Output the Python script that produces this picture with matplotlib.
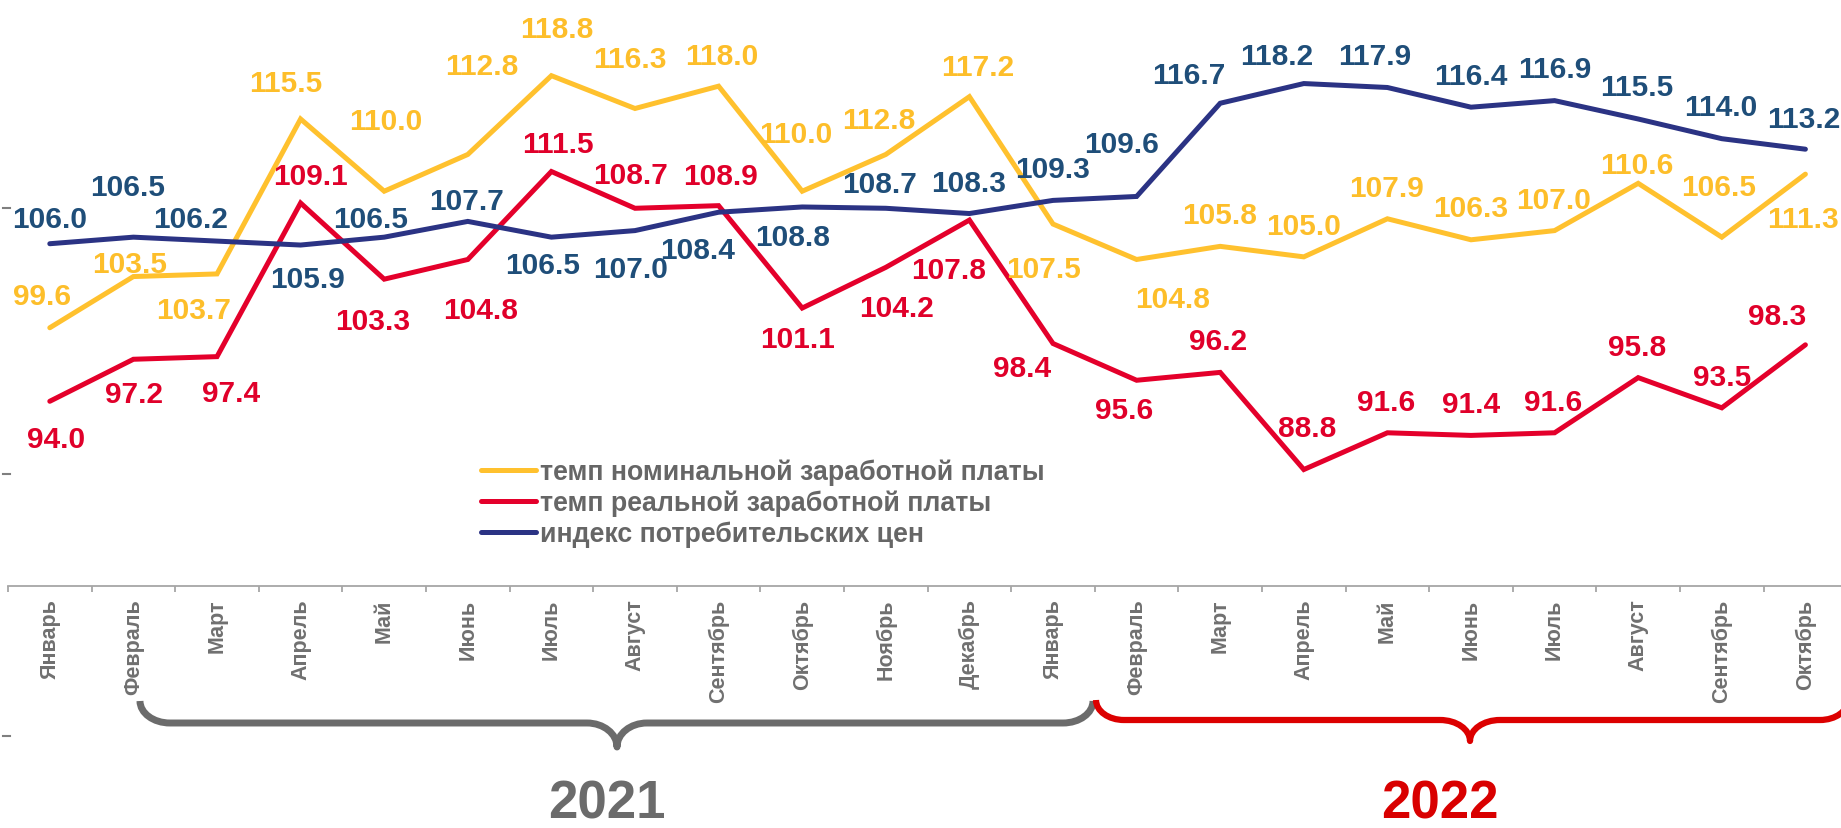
import matplotlib
matplotlib.use('Agg')
import matplotlib.pyplot as plt
from matplotlib.path import Path
from matplotlib.patches import PathPatch
from matplotlib.lines import Line2D

plt.rcParams['font.family'] = ['Liberation Sans', 'DejaVu Sans']

# data
months = ['Январь', 'Февраль', 'Март', 'Апрель', 'Май', 'Июнь', 'Июль', 'Август',
          'Сентябрь', 'Октябрь', 'Ноябрь', 'Декабрь',
          'Январь', 'Февраль', 'Март', 'Апрель', 'Май', 'Июнь', 'Июль', 'Август',
          'Сентябрь', 'Октябрь']
nominal = [99.6, 103.5, 103.7, 115.5, 110.0, 112.8, 118.8, 116.3, 118.0, 110.0, 112.8,
           117.2, 107.5, 104.8, 105.8, 105.0, 107.9, 106.3, 107.0, 110.6, 106.5, 111.3]
real = [94.0, 97.2, 97.4, 109.1, 103.3, 104.8, 111.5, 108.7, 108.9, 101.1, 104.2,
        107.8, 98.4, 95.6, 96.2, 88.8, 91.6, 91.4, 91.6, 95.8, 93.5, 98.3]
cpi = [106.0, 106.5, 106.2, 105.9, 106.5, 107.7, 106.5, 107.0, 108.4, 108.8, 108.7,
       108.3, 109.3, 109.6, 116.7, 118.2, 117.9, 116.4, 116.9, 115.5, 114.0, 113.2]
legend_labels = ['темп номинальной заработной платы',
                 'темп реальной заработной платы',
                 'индекс потребительских цен']
years = ['2021', '2022']

# label offsets in pixels (dx right, dy down)
off_nom = [(-8, -35), (-4, -16), (-23, 33), (-15, -39), (2, -73), (14, -91), (5, -50),
           (-5, -52), (3, -33), (-6, -60), (-7, -37), (8, -33), (-9, 42), (36, 37),
           (-1, -34), (0, -34), (-1, -34), (0, -35), (-1, -34), (-1, -21), (-3, -53), (-2, 42)]
off_real = [(6, 35), (1, 32), (14, 33), (10, -30), (-12, 39), (13, 48), (7, -31),
            (-4, -36), (2, -33), (-5, 28), (11, 38), (-21, 47), (-31, 21), (-12, 27),
            (-2, -34), (3, -45), (-1, -34), (0, -34), (-1, -34), (-1, -34), (0, -34), (-28, -32)]
off_cpi = [(0, -28), (-6, -53), (-26, -25), (7, 31), (-14, -21), (-1, -23), (-9, 25),
           (-4, 35), (-21, 35), (-10, 27), (-6, -27), (-1, -34), (0, -34), (-15, -55),
           (-31, -31), (-27, -31), (-13, -34), (0, -34), (0, -35), (-1, -35), (-1, -35), (-2, -33)]

c_nom, c_real, c_cpi = '#FFC12E', '#E4002B', '#2B3384'
t_nom, t_real, t_cpi = '#FDBE2A', '#E0002A', '#1F4E79'

W, H = 1841, 829
fig = plt.figure(figsize=(W / 100, H / 100), dpi=100)
ax = fig.add_axes([8 / W, (H - 587) / H, 22 * 83.6 / W, 587 / H])
ax.set_facecolor('none')

x = list(range(len(months)))
series = [(nominal, c_nom, t_nom, off_nom), (real, c_real, t_real, off_real),
          (cpi, c_cpi, t_cpi, off_cpi)]
handles = []
for vals, lc, tc, offs in series:
    ln, = ax.plot(x, vals, color=lc, lw=3.6, solid_joinstyle='miter', solid_capstyle='round')
    handles.append(ln)
    for i, v in enumerate(vals):
        dx, dy = offs[i]
        ax.annotate(f'{v:.1f}', (i, v), xytext=(dx, -dy - 3), textcoords='offset pixels',
                    ha='center', va='center', fontsize=21.5, fontweight='bold', color=tc)

ax.set_xlim(-0.5, 21.5)
ax.set_ylim(79.93, 124.64)
ax.set_yticks([])
for s in ['left', 'right', 'top']:
    ax.spines[s].set_visible(False)
ax.spines['bottom'].set_color('#a6a6a6')
ax.spines['bottom'].set_linewidth(1.3)
ax.set_xticks(x)
ax.set_xticklabels(months, rotation=90)
ax.set_xticks([i - 0.5 for i in range(len(months) + 1)], minor=True)
ax.tick_params(axis='x', which='major', length=0, pad=9, labelsize=15.5, labelcolor='#707070')
ax.tick_params(axis='x', which='minor', length=4.5, width=1.3, color='#a6a6a6')
for lab in ax.get_xticklabels():
    lab.set_fontweight('bold')

fig.legend(handles, legend_labels, loc='center left',
           bbox_to_anchor=(481 / W, 1 - 504 / H), bbox_transform=fig.transFigure,
           frameon=False, borderpad=0, borderaxespad=0, handlelength=2.05,
           handletextpad=0.15, labelspacing=0.17, labelcolor='#666666',
           prop={'size': 19.3, 'weight': 'bold'})

# overlay in pixel coordinates for braces and year captions
ov = fig.add_axes([0, 0, 1, 1])
ov.set_xlim(0, W)
ov.set_ylim(H, 0)
ov.axis('off')
ov.set_facecolor('none')


def brace(x0, x1, xm, ytop, yline, ytip, r, rc, color, lw):
    k = 0.552
    verts = [(x0, ytop),
             (x0, ytop + k * (yline - ytop)), (x0 + r - k * r, yline), (x0 + r, yline),
             (xm - rc, yline),
             (xm - rc + k * rc, yline), (xm, ytip - k * (ytip - yline)), (xm, ytip),
             (xm, ytip - k * (ytip - yline)), (xm + rc - k * rc, yline), (xm + rc, yline),
             (x1 - r, yline),
             (x1 - r + k * r, yline), (x1, ytop + k * (yline - ytop)), (x1, ytop)]
    codes = [Path.MOVETO, Path.CURVE4, Path.CURVE4, Path.CURVE4, Path.LINETO,
             Path.CURVE4, Path.CURVE4, Path.CURVE4, Path.CURVE4, Path.CURVE4, Path.CURVE4,
             Path.LINETO, Path.CURVE4, Path.CURVE4, Path.CURVE4]
    ov.add_patch(PathPatch(Path(verts, codes), fill=False, edgecolor=color, lw=lw,
                           capstyle='butt', joinstyle='round'))


brace(140, 1093, 617, 702, 724, 748, 30, 30, '#6b6b6b', 5)
brace(1096, 1848, 1470, 701, 721, 742, 28, 30, '#dc0000', 4.5)
ov.text(607, 805, years[0], ha='center', va='center', fontsize=38, fontweight='bold',
        color='#6b6b6b')
ov.text(1440, 805, years[1], ha='center', va='center', fontsize=38, fontweight='bold',
        color='#d90000')

# small leftover marks of the value axis
for yy in (209, 475, 737):
    ov.add_line(Line2D([3, 10], [yy, yy], color='#7f7f7f', lw=1.5))

fig.savefig('out.png', dpi=100)
